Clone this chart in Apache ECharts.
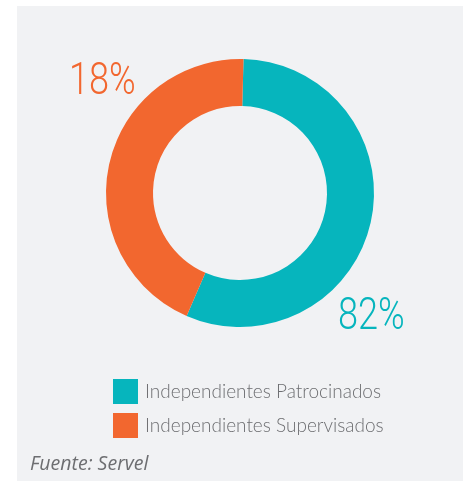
<!DOCTYPE html>
<html>
<head>
<meta charset="utf-8">
<script src="https://cdn.jsdelivr.net/npm/echarts@6/dist/echarts.min.js"></script>
<style>
html,body{margin:0;padding:0;background:#ffffff;}
#chart{width:468px;height:481px;}
</style>
</head>
<body>
<div id="chart"></div>
<script>
// Categories and values (slice sizes as drawn in the picture; labels as printed)
const categories = ["Independientes Patrocinados", "Independientes Supervisados"];
const sliceValues = [56.1, 43.9];
const printedLabels = ["82%", "18%"];
const colors = ["#06b5bd", "#f2672f"];
const sourceText = "Fuente: Servel";

const chart = echarts.init(document.getElementById('chart'), null, {renderer: 'canvas'});

const option = {
  backgroundColor: 'transparent',
  animation: false,
  graphic: [
    {type: 'rect', z: -10, shape: {x: 17, y: 6, width: 446, height: 475}, style: {fill: '#f1f2f4'}},
    {type: 'text', x: 30, y: 454, style: {text: sourceText, fill: '#6d6e71', font: 'italic 19.5px "Open Sans"'}},
    {type: 'text', x: 69, y: 61, scaleX: 0.82, style: {text: printedLabels[1], fill: colors[1], font: '300 44px Roboto'}},
    {type: 'text', x: 338, y: 296, scaleX: 0.82, style: {text: printedLabels[0], fill: colors[0], font: '300 44px Roboto'}}
  ],
  legend: {
    orient: 'vertical',
    left: 108,
    top: 374,
    itemWidth: 25,
    itemHeight: 25,
    itemGap: 9,
    icon: 'rect',
    data: categories,
    textStyle: {color: '#6d6e71', fontSize: 19, fontFamily: 'Lato', fontWeight: 300, padding: [0, 0, 0, 2]}
  },
  series: [{
    type: 'pie',
    center: [240, 193],
    radius: [87, 134],
    startAngle: 88.5,
    clockwise: true,
    label: {show: false},
    labelLine: {show: false},
    emphasis: {disabled: true},
    data: categories.map((c, i) => ({name: c, value: sliceValues[i], itemStyle: {color: colors[i]}}))
  }]
};
chart.setOption(option);
</script>
</body>
</html>
